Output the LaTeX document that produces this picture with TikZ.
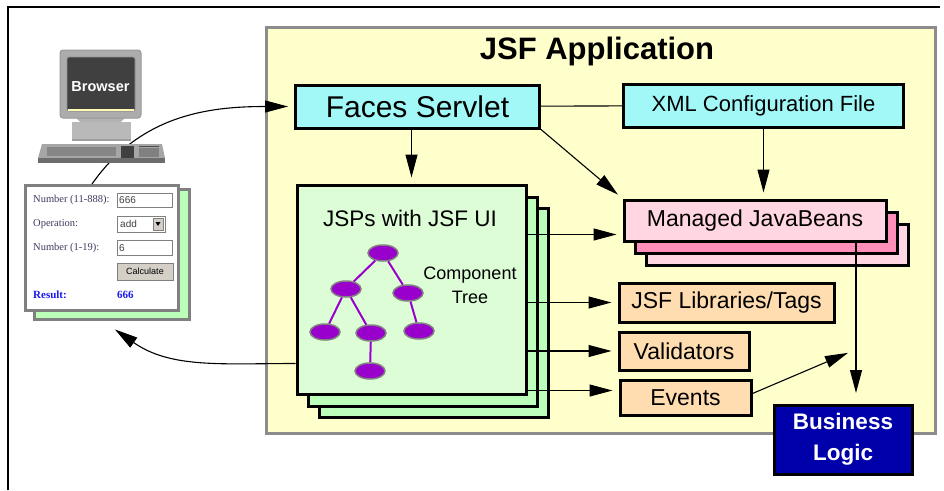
\documentclass[tikz,border=0pt]{standalone}
\usepackage{fontspec}
\setmainfont{Liberation Sans}
\newfontfamily\formfont{Liberation Serif}
\usetikzlibrary{arrows.meta,shapes.geometric}
\definecolor{appbg}{HTML}{FFFFCC}
\definecolor{appline}{HTML}{8C8C8C}
\definecolor{servletbg}{HTML}{A2F7F7}
\definecolor{beanbg}{HTML}{FFD6E2}
\definecolor{beandark}{HTML}{FF8FB8}
\definecolor{libbg}{HTML}{FFDDB0}
\definecolor{jspbg}{HTML}{DDFDD6}
\definecolor{jspback}{HTML}{BBFFBB}
\definecolor{treenode}{HTML}{9900CC}
\definecolor{logicbg}{HTML}{0000AA}
\definecolor{formtxt}{HTML}{3C3C60}
\definecolor{formblue}{HTML}{1A1AEE}
\definecolor{btnbg}{HTML}{D4D0C8}
\newcommand\fsize[1]{\fontsize{#1}{#1}\selectfont}
\begin{document}
\begin{tikzpicture}[x=1pt,y=1pt,
  box/.style={draw,line width=3pt,inner sep=0pt,font=\fsize{23}},
  arr/.style={-{Triangle[length=23pt,width=12pt]},line width=1.1pt,shorten >=6pt},
  tnode/.style={ellipse,draw=gray,line width=1.5pt,fill=treenode,minimum width=30pt,minimum height=16pt,inner sep=0pt},
  tedge/.style={treenode,line width=2pt},
  formlbl/.style={anchor=west,inner sep=0pt,text=formtxt,font=\formfont\fsize{10.5}},
  fieldtxt/.style={anchor=west,inner sep=0pt,text=darkgray,font=\fsize{10}}]
\useasboundingbox (0,0) rectangle (944,-490);
\draw[line width=1.5pt] (8,-490) -- (8,-7) -- (940,-7);
\node[draw=appline,fill=appbg,line width=3pt,minimum width=669pt,minimum height=406pt,inner sep=0pt] (app) at (601,-230.5) {};
\node[font=\bfseries\fsize{31}] (title) at (597,-51) {JSF Application};
\node[box,fill=servletbg,minimum width=244pt,minimum height=43pt,font=\fsize{30}] (faces) at (417.5,-106.5) {Faces Servlet};
\node[box,fill=servletbg,minimum width=280pt,minimum height=43pt,font=\fsize{22}] (xml) at (763.5,-105.5) {XML Configuration File};
\draw[line width=1.1pt] (faces) -- (xml);
\node[box,fill=jspback,minimum width=229pt,minimum height=209pt] (jspc) at (433.5,-312.5) {};
\node[box,fill=jspback,minimum width=229pt,minimum height=209pt] (jspb) at (422.5,-301.5) {};
\node[box,fill=jspbg,minimum width=229pt,minimum height=209pt] (jsp) at (411.5,-289.5) {};
\node[font=\fsize{22.5}] (jsptitle) at (410,-218) {JSPs with JSF UI};
\node[align=center,font=\fontsize{18}{24}\selectfont] (treelbl) at (470,-285) {Component\\Tree};
\node[tnode] (t1) at (383,-253) {};
\node[tnode] (t2) at (346,-289) {};
\node[tnode] (t3) at (408,-293) {};
\node[tnode] (t4) at (325,-332) {};
\node[tnode] (t5) at (371,-333) {};
\node[tnode] (t6) at (419,-331) {};
\node[tnode] (t7) at (370,-371) {};
\draw[tedge] (t1) -- (t2) (t1) -- (t3) (t2) -- (t4) (t2) -- (t5) (t3) -- (t6) (t5) -- (t7);
\node[box,fill=beanbg,minimum width=262pt,minimum height=41pt] (mjbc) at (777,-244.5) {};
\node[box,fill=beandark,minimum width=262pt,minimum height=41pt] (mjbb) at (766,-232.5) {};
\node[box,fill=beanbg,minimum width=262pt,minimum height=41pt] (mjb) at (755,-220.5) {Managed JavaBeans};
\node[box,fill=libbg,minimum width=215pt,minimum height=39pt] (libs) at (726.5,-302.5) {JSF Libraries/Tags};
\node[box,fill=libbg,minimum width=130pt,minimum height=38pt] (valid) at (684,-351) {Validators};
\node[box,fill=libbg,minimum width=131pt,minimum height=35pt] (events) at (685.5,-397.5) {Events};
\node[box,fill=logicbg,text=white,align=center,minimum width=138pt,minimum height=69pt,font=\bfseries\fontsize{22.5}{31}\selectfont] (logic) at (843,-439.5) {Business\\Logic};
\coordinate (bl) at (856,-399);
\coordinate (ev) at (853.5,-350.5);
\draw[arr] (jsp.north |- faces.south) -- (jsp.north);
\draw[arr] (faces.south east) -- (mjb.north west);
\draw[arr] (xml.south) -- (xml.south |- mjb.north);
\draw[arr] ([yshift=-14pt]jsp.east |- mjb.west) -- ([yshift=-14pt]mjb.west);
\draw[arr] (jsp.east |- libs.west) -- (libs.west);
\draw[arr] (jsp.east |- valid.west) -- (valid.west);
\draw[arr] ([yshift=7pt]jsp.east |- events.west) -- ([yshift=7pt]events.west);
\draw[arr] (mjb.south -| bl) -- (bl);
\draw[arr] ([yshift=4pt]events.east) -- (ev);
\node[draw=gray,fill=jspback,line width=3pt,minimum width=155pt,minimum height=130pt,inner sep=0pt] (formb) at (112,-254.5) {};
\node[draw=gray,fill=white,line width=3pt,minimum width=153pt,minimum height=125pt,inner sep=0pt] (form) at (102,-248) {};
\draw[gray,fill=white,line width=0.8pt] (117,-193) rectangle (172,-207);
\draw[gray,fill=white,line width=0.8pt] (117,-216) rectangle (165,-232);
\draw[gray,fill=btnbg,line width=0.6pt] (153,-218) rectangle (163,-230);
\fill[black] (155.5,-222) -- (160.5,-222) -- (158,-226) -- cycle;
\draw[gray,fill=white,line width=0.8pt] (117,-240) rectangle (172,-255);
\draw[gray,fill=btnbg,line width=0.8pt] (117,-263) rectangle (173,-280);
\node[formlbl] (lblnum1) at (33,-200) {Number (11-888):};
\node[formlbl] (lblop) at (33,-224) {Operation:};
\node[formlbl] (lblnum2) at (33,-248) {Number (1-19):};
\node[fieldtxt] (valnum1) at (119,-200) {666};
\node[fieldtxt] (valop) at (120,-224) {add};
\node[fieldtxt] (valnum2) at (119,-248) {6};
\node[inner sep=0pt,font=\fsize{9}] (calc) at (145,-271.5) {Calculate};
\node[formlbl,text=formblue,font=\formfont\bfseries\fsize{11}] (lblres) at (33,-295) {Result:};
\node[formlbl,text=formblue,font=\formfont\bfseries\fsize{11}] (valres) at (117,-295) {666};
\draw[arr] ([xshift=-10pt]form.north) to[out=55,in=180] (faces.west);
\draw[arr] ([yshift=32pt]jsp.south west) to[out=180,in=-35] ([xshift=-2pt,yshift=-5pt]formb.south);
\fill[gray!60] (76,-116) .. controls (78,-130) and (123,-130) .. (125,-116) -- cycle;
\fill[gray!55] (72,-122) rectangle (131,-139);
\fill[gray!75] (72,-139) rectangle (131,-141);
\draw[fill=gray!65,draw=gray!80,line width=1pt,rounded corners=3pt] (60,-50) rectangle (141,-118);
\draw[fill=black!75,draw=gray!85,line width=0.8pt,rounded corners=2pt] (67,-57) rectangle (135,-111);
\draw[yellow!30!white,line width=1.2pt] (68,-110) -- (134,-110);
\node[text=white,font=\bfseries\fsize{14.5}] (browser) at (100.5,-87) {Browser};
\fill[gray!70] (42,-144) -- (162,-144) -- (165,-158) -- (38,-158) -- cycle;
\fill[gray!85!black] (38,-158) rectangle (165,-163);
\fill[gray!95] (47,-147) rectangle (116,-156);
\fill[black!75] (121,-146) rectangle (134,-158);
\fill[gray] (139,-148) rectangle (159,-157);
\draw[black!70,line width=1pt] (139,-146) -- (159,-146);
\end{tikzpicture}
\end{document}
